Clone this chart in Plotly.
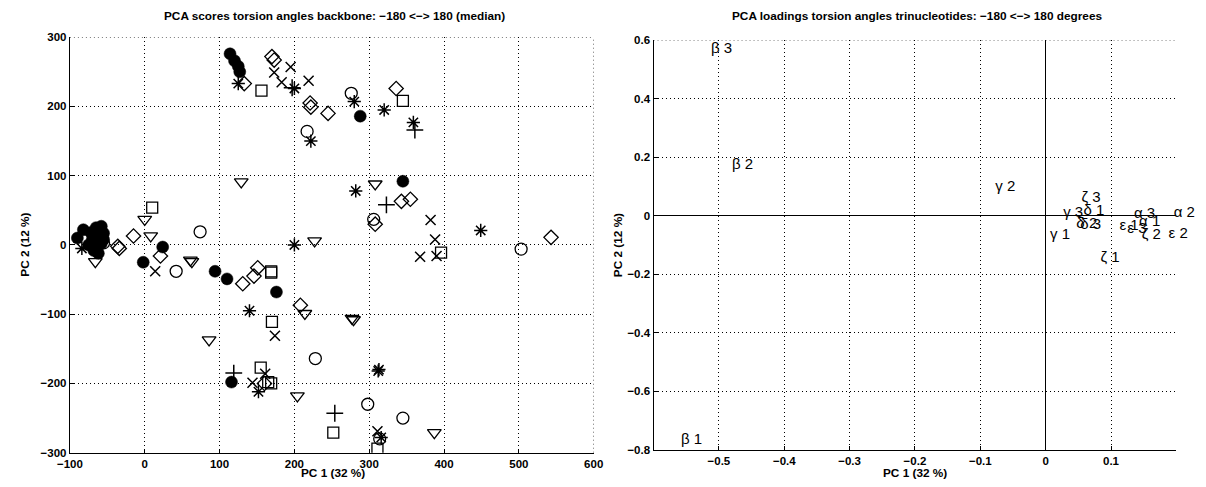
import plotly.graph_objects as go

# ---------------- Left panel: PCA scores (marker groups) ----------------
filled_x = [114, 120, 125, 127, 288, 345, 24, -2, 94, 110, 176, 116,
            -90, -82, -72, -65, -58, -55, -62, -70, -75, -65, -58, -62, -68, -55]
filled_y = [276, 266, 258, 250, 186, 92, -3, -25, -38, -49, -68, -198,
            10, 22, 18, 25, 27, 17, 12, 8, 0, -3, 2, -12, -8, 8]

open_x = [276, 217, 306, 503, 74, 42, 228, 298, 345, 314, -55]
open_y = [219, 164, 37, -6, 19, -38, -164, -230, -250, -280, 3]

xmark_x = [195, 173, 183, 219, 382, 388, 368, 390, 14, 174, 144, 161, 311]
xmark_y = [257, 249, 235, 237, 36, 8, -17, -16, -38, -131, -199, -186, -269]

plus_x = [197, 323, 361, 119, 254]
plus_y = [227, 58, 166, -185, -243]

star_x = [125, 200, 280, 320, 359, 222, 282, 449, 200, 140, 312, 313, 152, 316, -84]
star_y = [233, 226, 207, 195, 177, 150, 78, 21, 0, -95, -182, -180, -212, -278, -5]

square_x = [156, 345, 10, 396, 169, 169, 170, 155, 165, 169, 252, 311]
square_y = [223, 208, 54, -11, -38, -40, -111, -177, -198, -200, -271, -294]

diamond_x = [170, 173, 133, 221, 222, 245, 336, 343, 355, 308, 543, -15, -36, -34,
             21, 131, 146, 151, 208, 160]
diamond_y = [272, 267, 233, 205, 199, 190, 226, 63, 66, 30, 11, 13, -2, -5,
             -16, -56, -45, -33, -87, -200]

tri_x = [129, 0, 8, 227, 61, 63, 308, 86, 214, 277, 279, 204, 387, -66]
tri_y = [91, 37, 13, 6, -22, -24, 88, -137, -99, -106, -108, -218, -271, -24]

# ---------------- Right panel: PCA loadings (text labels) ----------------
load_labels = ["β 3", "β 2", "β 1", "γ 2", "γ 1", "γ 3", "ζ 3", "δ 1", "δ 2", "δ 3",
               "ζ 1", "ε 1", "ε 3", "α 1", "α 3", "ζ 2", "α 2", "ε 2"]
load_x = [-0.512, -0.480, -0.558, -0.077, 0.0068, 0.0268, 0.0548, 0.058, 0.047, 0.053,
          0.084, 0.113, 0.125, 0.143, 0.135, 0.147, 0.196, 0.188]
load_y = [0.569, 0.174, -0.767, 0.096, -0.067, 0.008, 0.061, 0.014, -0.030, -0.032,
          -0.144, -0.037, -0.048, -0.022, 0.006, -0.067, 0.008, -0.064]

FONT = "Liberation Sans, Arial, sans-serif"
fig = go.Figure()

def add_group(xs, ys, symbol, size, lw=1.3):
    fig.add_trace(go.Scatter(
        x=xs, y=ys, mode="markers", xaxis="x", yaxis="y", showlegend=False,
        marker=dict(symbol=symbol, size=size, color="black",
                    line=dict(color="black", width=lw))))

add_group(filled_x, filled_y, "circle", 12, lw=0.5)
add_group(open_x, open_y, "circle-open", 12)
add_group(xmark_x, xmark_y, "x-thin-open", 10, lw=1.5)
add_group(plus_x, plus_y, "cross-thin-open", 12, lw=1.5)
add_group(star_x, star_y, "asterisk-open", 11, lw=1.5)
add_group(square_x, square_y, "square-open", 11)
add_group(diamond_x, diamond_y, "diamond-open", 11)
add_group(tri_x, tri_y, "triangle-down-open", 12)

fig.add_trace(go.Scatter(
    x=load_x, y=load_y, mode="text", text=load_labels, textposition="middle right",
    textfont=dict(family=FONT, size=15, color="black"), cliponaxis=False,
    xaxis="x2", yaxis="y2", showlegend=False))

DOT = "1px,3px"
tickfont = dict(family=FONT, size=11.5, color="black", weight="bold")
common = dict(showgrid=True, gridcolor="black", griddash=DOT, gridwidth=1,
              showline=True, linecolor="black", linewidth=1.3, ticks="inside",
              ticklen=4, tickcolor="black", tickfont=tickfont, mirror=False)

fig.update_layout(
    width=1206, height=487, margin=dict(l=0, r=0, t=0, b=0),
    paper_bgcolor="white", plot_bgcolor="white",
    xaxis=dict(domain=[58/1206, 592/1206], range=[-100, 600],
               tickvals=[-100, 0, 100, 200, 300, 400, 500, 600],
               zeroline=False, anchor="y", **common),
    yaxis=dict(domain=[1-458/487, 1-32/487], range=[-300, 300],
               tickvals=[-300, -200, -100, 0, 100, 200, 300],
               zeroline=False, anchor="x", **common),
    xaxis2=dict(domain=[653/1206, 1186/1206], range=[-0.6, 0.2],
                tickvals=[-0.5, -0.4, -0.3, -0.2, -0.1, 0, 0.1],
                zeroline=True, zerolinecolor="black", zerolinewidth=1.3,
                anchor="y2", **common),
    yaxis2=dict(domain=[1-455/487, 1-35/487], range=[-0.8, 0.6],
                tickvals=[-0.8, -0.6, -0.4, -0.2, 0, 0.2, 0.4, 0.6],
                zeroline=True, zerolinecolor="black", zerolinewidth=1.3,
                anchor="x2", **common),
)

# dotted top/right frame lines (grid at the range ends)
dot = dict(color="black", width=1, dash=DOT)
fig.add_shape(type="line", xref="x", yref="y", x0=-100, x1=600, y0=300, y1=300, line=dot)
fig.add_shape(type="line", xref="x", yref="y", x0=600, x1=600, y0=-300, y1=300, line=dot)
fig.add_shape(type="line", xref="x2", yref="y2", x0=-0.6, x1=0.2, y0=0.6, y1=0.6, line=dot)

tfont = dict(family=FONT, size=11.8, color="black", weight="bold")
ann = [
    dict(text="PCA scores torsion angles backbone: −180 <−> 180 (median)",
         x=328/1206, y=1-10/487),
    dict(text="PCA loadings torsion angles trinucleotides: −180 <−> 180 degrees",
         x=922/1206, y=1-10/487),
    dict(text="PC 1 (32 %)", x=326/1206, y=1-479/487),
    dict(text="PC 1 (32 %)", x=920/1206, y=1-479/487),
    dict(text="PC 2 (12 %)", x=12/1206, y=1-245/487, textangle=-90),
    dict(text="PC 2 (12 %)", x=617/1206, y=1-245/487, textangle=-90),
]
for a in ann:
    fig.add_annotation(xref="paper", yref="paper", xanchor="center", yanchor="middle",
                       showarrow=False, font=tfont, **a)

fig.write_html("out.html")
